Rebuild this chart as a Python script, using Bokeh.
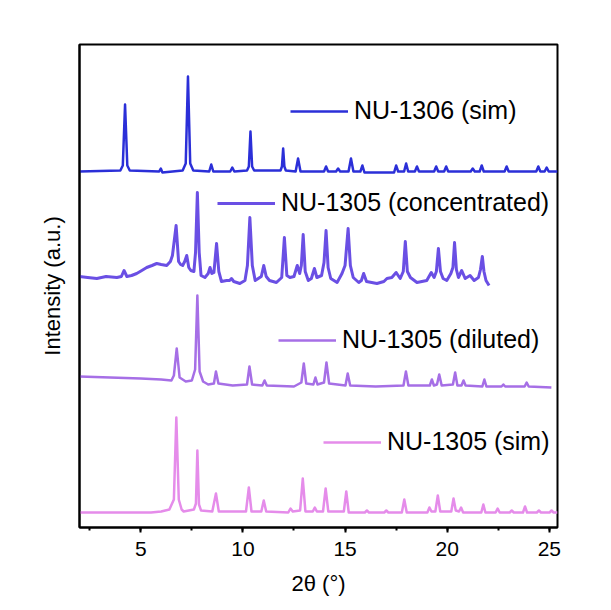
from bokeh.plotting import figure
from bokeh.models import Legend, LegendItem, SingleIntervalTicker, FixedTicker, Range1d
from bokeh.embed import file_html
from bokeh.resources import INLINE

# ---- data (2theta, offset intensity in a.u.) ----
nu1306_sim = [(2.0,356),(4.0,357),(4.12,362),(4.23,423),(4.34,362),(4.46,357),(5.9,356),(5.98,359),(6.06,355),
    (7.05,357),(7.2,364),(7.31,451),(7.42,364),(7.57,357),
    (8.35,356),(8.45,363),(8.55,356),(9.38,356),(9.48,360),(9.58,356),(10.2,357),(10.29,361),(10.37,396),(10.45,361),(10.55,357),
    (11.84,357),(11.91,361),(11.97,379),(12.03,361),(12.1,357),(12.58,356),(12.7,369),(12.82,356),(13.97,356),(14.07,361),(14.17,356),
    (14.56,356),(14.66,359),(14.76,356),(15.17,356),(15.29,369),(15.41,356),(15.75,356),(15.85,362),(15.95,355),
    (17.4,355),(17.5,362),(17.6,356),(17.89,356),(17.99,364),(18.09,356),(18.42,356),(18.52,361),(18.62,356),
    (19.36,356),(19.46,361),(19.56,356),(19.85,356),(19.95,361),(20.05,356),(21.15,356),(21.25,359),(21.35,356),
    (21.59,356),(21.69,362),(21.79,356),(22.81,356),(22.91,361),(23.01,356),(24.36,356),(24.46,361),(24.56,356),
    (24.77,356),(24.87,360),(24.97,356),(25.4,356)]

nu1305_conc = [(2.0,251),(2.4,250),(2.85,249),(3.3,251),(3.83,250),(4.05,251),(4.18,257),(4.32,251),(4.55,252),
    (4.8,254),(5.05,257),(5.29,260),(5.55,262),(5.78,264),(6.0,263),(6.27,262),(6.45,266),(6.55,272),(6.73,302),
    (6.85,266),(6.95,263),(7.05,262),(7.15,266),(7.25,272),(7.35,260),(7.45,257),(7.6,256),(7.68,275),(7.77,335),
    (7.86,275),(7.95,252),(8.14,250),(8.3,254),(8.39,260),(8.48,254),(8.58,255),(8.71,284),(8.82,256),(8.95,246),
    (9.2,247),(9.35,247),(9.44,249),(9.55,246),(9.85,244),(10.1,247),(10.22,262),(10.34,310),(10.46,262),(10.6,247),
    (10.9,251),(11.02,262),(11.14,251),(11.3,247),(11.64,245),(11.9,250),(12.03,290),(12.15,252),(12.3,250),
    (12.5,251),(12.66,262),(12.78,254),(12.86,262),(12.95,293),(13.05,256),(13.2,247),(13.35,249),(13.5,259),
    (13.62,250),(13.85,252),(13.97,265),(14.07,297),(14.17,260),(14.3,249),(14.61,245),(14.85,254),(15.0,262),
    (15.15,299),(15.26,262),(15.4,250),(15.67,245),(15.8,247),(15.91,254),(16.05,246),(16.56,244),(16.9,246),
    (17.05,249),(17.29,250),(17.5,255),(17.7,249),(17.85,256),(17.95,286),(18.05,256),(18.2,250),(18.52,245),
    (19.0,247),(19.22,255),(19.36,250),(19.47,256),(19.57,279),(19.67,256),(19.8,249),(19.98,247),(20.18,254),
    (20.28,260),(20.36,285),(20.45,258),(20.55,250),(20.71,257),(20.88,249),(21.12,252),(21.32,247),(21.53,250),
    (21.63,258),(21.72,271),(21.8,256),(21.9,247),(22.05,242)]

nu1305_dil = [(2.0,151),(3.5,150),(5.0,149),(6.0,148),(6.5,147),(6.62,152),(6.76,179),(6.9,150),(7.2,146),
    (7.5,147),(7.66,158),(7.77,232),(7.88,156),(8.05,146),(8.3,143),(8.58,144),(8.68,156),(8.8,144),(9.5,142),(10.2,143),
    (10.32,161),(10.45,143),(10.95,142),(11.06,147),(11.17,142),(12.5,141),(12.86,145),(12.98,164),(13.1,144),
    (13.45,143),(13.55,150),(13.65,143),(13.97,145),(14.09,165),(14.22,144),(15.02,142),(15.13,154),(15.25,142),
    (16.5,141),(17.86,142),(17.98,156),(18.1,142),(19.15,142),(19.25,148),(19.35,142),(19.5,143),(19.61,153),
    (19.73,142),(20.28,143),(20.39,155),(20.5,142),(20.7,142),(20.8,147),(20.9,142),(21.72,141),(21.82,148),
    (21.92,141),(22.66,141),(22.75,143),(22.84,141),(23.79,141),(23.89,145),(23.99,141),(25.1,140)]

nu1305_sim = [(2.0,15),(5.5,15),(6.0,16),(6.4,18),(6.62,28),(6.74,110),(6.86,28),(7.0,18),(7.1,16),(7.6,18),(7.7,24),(7.77,77),
    (7.85,23),(7.95,17),(8.5,16),(8.68,34),(8.82,16),(10.15,16),(10.29,40),(10.42,16),(10.9,16),(11.02,27),(11.14,16),
    (12.22,15),(12.33,19),(12.44,16),(12.8,17),(12.93,49),(13.06,16),(13.42,16),(13.52,20),(13.62,16),(13.92,16),
    (14.05,39),(14.18,16),(14.94,16),(15.06,36),(15.18,15),(15.97,15),(16.07,17),(16.17,15),(16.92,15),(17.02,17),
    (17.12,15),(17.78,15),(17.9,28),(18.02,15),(19.03,15),(19.13,20),(19.23,16),(19.42,16),(19.54,32),(19.66,16),
    (20.2,16),(20.31,29),(20.42,17),(20.58,16),(20.68,20),(20.78,15),(21.67,15),(21.77,23),(21.87,15),(22.37,15),
    (22.47,19),(22.57,15),(23.06,15),(23.16,17),(23.26,15),(23.71,15),(23.81,21),(23.91,15),(24.39,15),(24.49,17),
    (24.59,15),(25.01,15),(25.11,17),(25.21,15),(25.4,15)]

labels = ["NU-1306 (sim)", "NU-1305 (concentrated)", "NU-1305 (diluted)", "NU-1305 (sim)"]
colors = ["#2B2FD8", "#6A4FE4", "#A66FE6", "#E58CEA"]
x_ticks_interval = 5

FONT = "Liberation Sans"

p = figure(width=603, height=602, output_backend="svg", toolbar_location=None,
           x_range=Range1d(2.0, 25.4), y_range=Range1d(0, 483),
           min_border_left=79, min_border_right=46, min_border_top=44, min_border_bottom=75,
           x_axis_label="2θ (°)", y_axis_label="Intensity (a.u.)")
p.grid.visible = False
p.outline_line_color = "black"
p.outline_line_width = 2
p.background_fill_color = "white"
p.border_fill_color = "white"

xa = p.xaxis[0]
xa.ticker = SingleIntervalTicker(interval=x_ticks_interval, num_minor_ticks=2)
xa.axis_line_width = 2
xa.major_tick_in = 0
xa.major_tick_out = 5
xa.minor_tick_in = 0
xa.minor_tick_out = 3
xa.major_tick_line_width = 2
xa.minor_tick_line_width = 2
xa.major_label_text_font = FONT
xa.major_label_text_font_size = "21px"
xa.major_label_text_color = "black"
xa.major_label_standoff = 9
xa.axis_label_text_font = FONT
xa.axis_label_text_font_size = "22px"
xa.axis_label_text_font_style = "normal"
xa.axis_label_text_color = "black"
xa.axis_label_standoff = 12

ya = p.yaxis[0]
ya.ticker = FixedTicker(ticks=[])
ya.axis_line_width = 2
ya.major_tick_in = 0
ya.major_tick_out = 0
ya.minor_tick_in = 0
ya.minor_tick_out = 0
ya.major_label_standoff = 0
ya.axis_label_text_font = FONT
ya.axis_label_text_font_size = "22px"
ya.axis_label_text_font_style = "normal"
ya.axis_label_text_color = "black"
ya.axis_label_standoff = 15

series = [nu1306_sim, nu1305_conc, nu1305_dil, nu1305_sim]
widths = [2.5, 3, 2.5, 2.5]
renderers = []
for pts, c, w in zip(series, colors, widths):
    xs = [a for a, b in pts]
    ys = [b for a, b in pts]
    renderers.append(p.line(xs, ys, line_color=c, line_width=w, line_join="round"))

legend_locs = [(211, 402), (138, 310), (199, 173), (244, 71)]
for r, lab, loc in zip(renderers, labels, legend_locs):
    leg = Legend(items=[LegendItem(label=lab, renderers=[r])], location=loc,
                 padding=0, margin=0, spacing=0, glyph_width=58, glyph_height=28,
                 label_standoff=6, label_text_font=FONT, label_text_font_size="25px",
                 label_text_color="black", border_line_alpha=0, background_fill_alpha=0)
    p.add_layout(leg)

open("out.html", "w").write(file_html(p, INLINE))
